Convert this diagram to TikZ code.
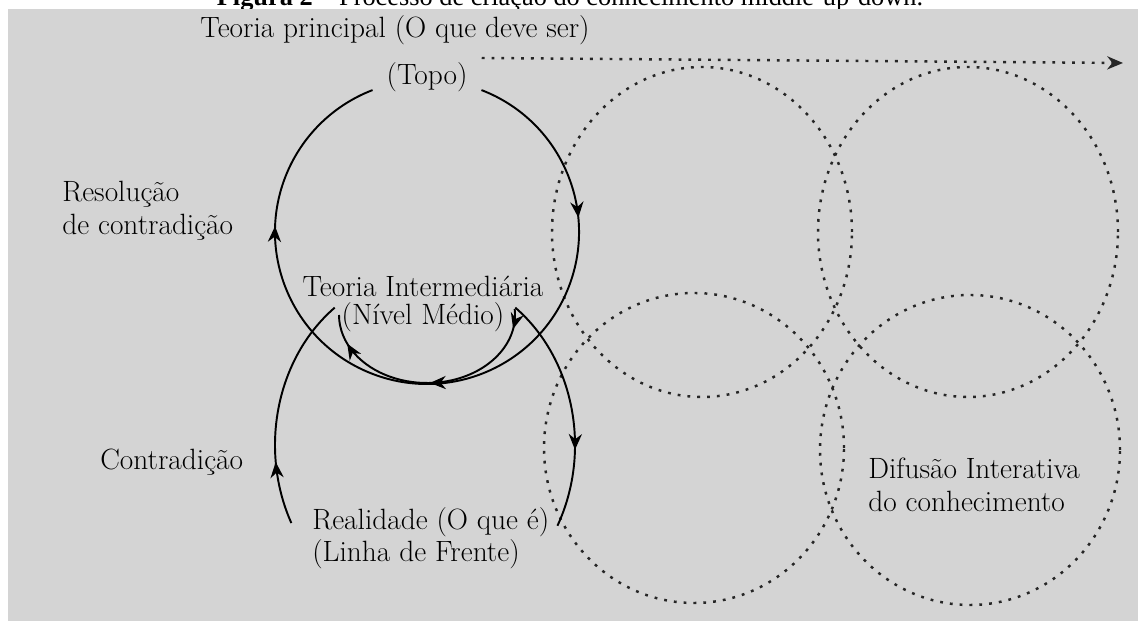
\documentclass[tikz,border=0pt]{standalone}
\usepackage{fontspec}
\newfontfamily\capfont{Liberation Serif}
\usetikzlibrary{arrows.meta,decorations.markings}
\definecolor{panel}{HTML}{D4D4D4}

\tikzset{
  loopline/.style={line width=1.1pt},
  dotline/.style={black!85,line width=1.4pt,dash pattern=on 1.6pt off 4pt},
  arrowat/.style={postaction={decorate,decoration={markings,
      mark=at position #1 with {\arrow{>}}}}},
  txt/.style={inner sep=0pt,font=\fontsize{16.7}{18.5}\selectfont}
}

\begin{document}
\begin{tikzpicture}[x=0.02cm,y=0.02cm,>={Stealth[length=9pt,width=7.5pt]}]
  \useasboundingbox (0,0) rectangle (1138,621);
  % caption, cut by the panel
  \node[anchor=base,inner sep=0pt,font=\capfont\fontsize{15}{18}\selectfont] (caption)
        at (570,615) {\textbf{Figura 2} – Processo de criação do conhecimento middle-up-down.};
  \fill[panel] (8,0) rectangle (1138,612);

  % dotted diffusion circles
  \draw[dotline] (702,389) ellipse[x radius=150,y radius=165];
  \draw[dotline] (968,389) ellipse[x radius=150,y radius=165];
  \draw[dotline] (694,173) ellipse[x radius=150,y radius=155];
  \draw[dotline] (970,171) ellipse[x radius=150,y radius=155];

  % upper loop (top <-> middle)
  \draw[loopline,arrowat=0.2,arrowat=0.79] (427,389) ++(69:152)
        arc[start angle=69,end angle=-249,radius=152];
  % lower loop (middle <-> front line)
  \draw[loopline,arrowat=0.27] (425,176) ++({150*cos(207)},{172*sin(207)})
        arc[start angle=207,end angle=127,x radius=150,y radius=172];
  \draw[loopline,arrowat=0.67] (425,176) ++({150*cos(53)},{172*sin(53)})
        arc[start angle=53,end angle=-28,x radius=150,y radius=172];
  % inner loop at middle level
  \draw[loopline,arrowat=0.08,arrowat=0.5,arrowat=0.88] (427,306) ++(5:88 and 68)
        arc[start angle=5,end angle=-180,x radius=88,y radius=68];

  % labels
  \node[txt] (principal) at (395,591) {Teoria principal (O que deve ser)};
  \node[txt] (topo) at (427,544) {(Topo)};
  \node[txt,align=left,anchor=west] (resolucao) at (62,410) {Resolução\\de contradição};
  \node[txt,align=center] (intermedio) at (423,317) {Teoria Intermediária\\[-3pt](Nível Médio)};
  \node[txt,anchor=west] (contradicao) at (100,159) {Contradição};
  \node[txt,align=left,anchor=west] (realidade) at (312,83) {Realidade (O que é)\\(Linha de Frente)};
  \node[txt,align=left,anchor=west] (difusao) at (868,136) {Difusão Interativa\\do conhecimento};

  % diffusion towards the right
  \coordinate (topoend) at (1123,558);
  \draw[dotline,->] ([shift={(14,4)}]topo.north east) -- (topoend);
\end{tikzpicture}
\end{document}
